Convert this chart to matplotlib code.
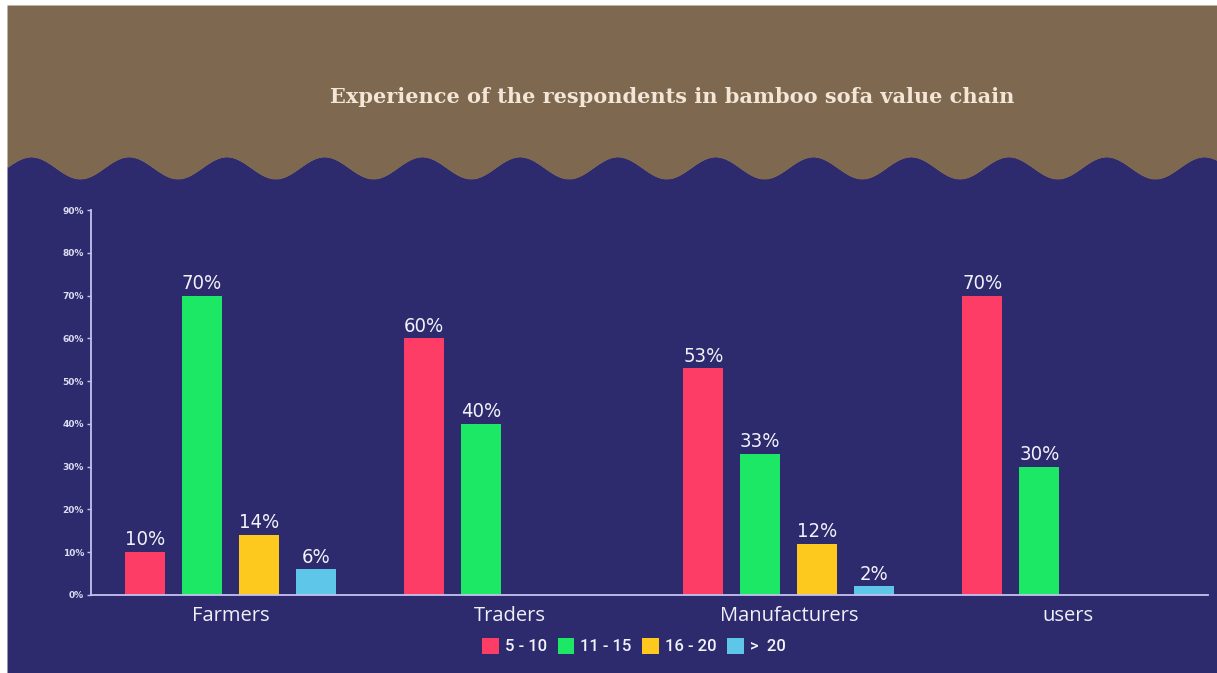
import numpy as np
import matplotlib
matplotlib.use("Agg")
import matplotlib.pyplot as plt
from matplotlib.patches import Patch
from matplotlib import font_manager
from matplotlib.font_manager import FontProperties

# ---- data ----
groups = ["Farmers", "Traders", "Manufacturers", "users"]
series_names = ["5 - 10", "11 - 15", "16 - 20", ">  20"]
exp_5_10 = [10, 60, 53, 70]
exp_11_15 = [70, 40, 33, 30]
exp_16_20 = [14, 0, 12, 0]
exp_over_20 = [6, 0, 2, 0]
y_ticks = [0, 10, 20, 30, 40, 50, 60, 70, 80, 90]
y_tick_labels = [f"{t}%" for t in y_ticks]
title = "Experience of the respondents in bamboo sofa value chain"

series = [exp_5_10, exp_11_15, exp_16_20, exp_over_20]
colors = ["#fd3d66", "#1de865", "#fec91e", "#5dc6e9"]

NAVY = "#2d2a6d"
BROWN = "#7e6950"
AXIS = "#c4c2ee"


def condensed_font(size):
    """Pick the narrowest upright sans face installed for the value labels."""
    rank = {"extra-condensed": 0, "ultra-condensed": 0, "condensed": 1, "semi-condensed": 2}
    best = None
    for f in font_manager.fontManager.ttflist:
        name = f"{f.name} {f.fname}".lower()
        if "italic" in name or "oblique" in f.style or "serif" in f.name.lower() and "sans" not in f.name.lower():
            continue
        st = str(f.stretch).lower()
        if st in rank:
            r = rank[st]
        elif "extracondensed" in name.replace("-", "").replace(" ", ""):
            r = 0
        elif "condensed" in name or "narrow" in name:
            r = 1
        else:
            continue
        w = f.weight if isinstance(f.weight, int) else 400
        score = (r, abs(w - 450))
        if best is None or score < best[0]:
            best = (score, f.fname)
    if best is None:
        return FontProperties(family="DejaVu Sans", size=size)
    return FontProperties(fname=best[1], size=size)


W, H = 1217, 673
fig = plt.figure(figsize=(W / 100, H / 100), dpi=100, facecolor="white")

# ---- backdrop: navy panel with a wavy brown header ----
bg = fig.add_axes([0, 0, 1, 1], zorder=-5)
bg.set_xlim(0, W)
bg.set_ylim(H, 0)
bg.axis("off")
left_edge, top_edge = 7, 5
xs = np.linspace(left_edge, W, 2000)
wave = 168 - 11 * np.cos(2 * np.pi * (xs - 31) / 97.75)
bg.fill_between(xs, wave - 0.5, H, color=NAVY, lw=0)
bg.fill_between(xs, top_edge, wave, color=BROWN, lw=0)
bg.text(672, 97, title, ha="center", va="center", color="#f3e6d6",
        fontsize=15, fontweight="bold", family="DejaVu Serif")

# ---- bar chart ----
ax_left, ax_right = 91 / W, 1207.5 / W
ax_bottom, ax_top = (H - 595) / H, (H - 210) / H
ax = fig.add_axes([ax_left, ax_bottom, ax_right - ax_left, ax_top - ax_bottom])
ax.set_facecolor("none")

x = np.arange(len(groups))
bar_w = 40 / 279
step = 57 / 279
offsets = (np.arange(len(series)) - 1.5) * step
label_font = condensed_font(14.5)

for vals, off, col in zip(series, offsets, colors):
    for xi, v in zip(x, vals):
        if v <= 0:
            continue
        ax.bar(xi + off, v, width=bar_w, color=col, zorder=2)
        ax.annotate(f"{v}%", (xi + off, v), xytext=(0, 2), textcoords="offset points",
                    ha="center", va="bottom", color="#f2f2fa",
                    fontproperties=label_font)

ax.set_xlim(-0.5, len(groups) - 0.5)
ax.set_ylim(0, 90)
ax.set_yticks(y_ticks)
ax.set_yticklabels(y_tick_labels)
ax.set_xticks(x)
ax.set_xticklabels(groups)

for s in ["top", "right"]:
    ax.spines[s].set_visible(False)
for s in ["left", "bottom"]:
    ax.spines[s].set_color(AXIS)
    ax.spines[s].set_linewidth(1.3)

ax.tick_params(axis="y", colors=AXIS, length=3, width=1, pad=2, labelsize=6.5,
               labelcolor="#dcdcf2")
for lab in ax.get_yticklabels():
    lab.set_fontweight("bold")
ax.tick_params(axis="x", length=0, pad=8, labelsize=14.5, labelcolor="#f0f0f8")
for lab in ax.get_xticklabels():
    lab.set_family("Open Sans")

handles = [Patch(facecolor=c, edgecolor="none") for c in colors]
leg = fig.legend(handles, series_names, loc="center", bbox_to_anchor=(634 / W, 1 - 646 / H),
                 ncol=4, frameon=False, handlelength=1.0, handleheight=1.1,
                 handletextpad=0.35, columnspacing=0.65,
                 prop={"family": "Roboto", "size": 12, "weight": "medium"})
for t in leg.get_texts():
    t.set_color("#f2f2fa")

fig.savefig("out.png", dpi=100, facecolor=fig.get_facecolor())
